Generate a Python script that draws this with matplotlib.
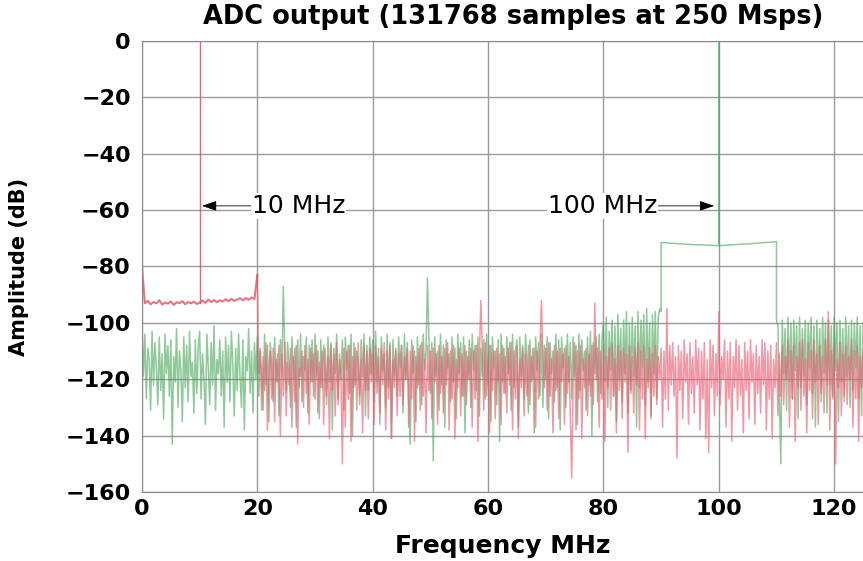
import numpy as np
import matplotlib
matplotlib.use("Agg")
import matplotlib.pyplot as plt

paso_banda = 0.5     # MHz entre muestras de la banda roja 0..20 MHz
paso_ruido = 0.25    # MHz entre muestras del ruido

# tono de 10 MHz (rojo): banda 0..19.5 MHz, luego ruido 20..125 MHz
rojo_banda_db = [
    -80.0, -93.0, -92.2, -93.4, -92.6, -93.1, -92.0, -93.5, -92.8, -93.2,
    -92.4, -93.6, -92.7, -93.0, -92.3, -93.4, -92.6, -93.1, -92.5, -93.3,
    -92.8, -92.1, -92.9, -91.8, -92.6, -91.9, -92.7, -92.0, -92.4, -91.6,
    -92.3, -91.5, -92.2, -91.7, -91.3, -92.0, -91.2, -91.8, -91.0, -91.5,
]
rojo_tono_mhz = 10.0
rojo_tono_db = 0.0
rojo_ruido_db = [
    -83, -118, -109, -131, -112, -124, -107, -138, -115, -110, -127, -109, -135, -113, -121, -108, -140, -111, -126, -107,
    -133, -114, -122, -109, -137, -112, -128, -108, -143, -116, -119, -110, -130, -108, -125, -113, -136, -109, -121, -111,
    -127, -108, -132, -114, -123, -110, -136, -109, -126, -112, -141, -108, -124, -111, -133, -107, -129, -113, -120, -150,
    -109, -137, -110, -127, -108, -142, -112, -123, -109, -131, -107, -126, -113, -139, -108, -124, -110, -134, -109, -121,
    -111, -136, -108, -125, -112, -132, -109, -122, -107, -138, -110, -127, -108, -141, -113, -123, -109, -133, -111, -126,
    -108, -129, -112, -120, -109, -137, -110, -127, -108, -142, -112, -123, -109, -131, -107, -126, -113, -139, -108, -124,
    -110, -134, -109, -121, -111, -136, -108, -125, -112, -132, -109, -122, -107, -138, -110, -127, -108, -141, -113, -123,
    -109, -133, -111, -126, -108, -129, -112, -120, -109, -137, -110, -127, -108, -142, -112, -92, -109, -131, -107, -126,
    -113, -139, -108, -124, -110, -134, -109, -121, -111, -136, -108, -125, -112, -132, -109, -122, -107, -138, -110, -127,
    -108, -141, -113, -123, -109, -133, -111, -126, -108, -129, -112, -120, -109, -137, -110, -127, -108, -92, -112, -123,
    -109, -131, -107, -126, -113, -139, -108, -124, -110, -134, -109, -121, -111, -136, -108, -125, -112, -132, -155, -122,
    -107, -138, -110, -127, -108, -141, -113, -123, -109, -133, -111, -126, -108, -129, -93, -120, -109, -137, -110, -127,
    -108, -142, -112, -123, -109, -131, -107, -126, -113, -139, -108, -124, -110, -134, -109, -121, -111, -146, -108, -125,
    -112, -132, -109, -122, -107, -138, -110, -127, -108, -141, -113, -123, -109, -133, -111, -126, -108, -129, -112, -120,
    -109, -137, -110, -127, -95, -131, -108, -122, -107, -126, -112, -148, -108, -124, -110, -134, -106, -121, -111, -136,
    -107, -125, -112, -132, -106, -122, -109, -138, -110, -127, -107, -141, -113, -146, -106, -123, -108, -133, -111, -126,
    -96, -129, -112, -120, -106, -137, -110, -127, -107, -142, -112, -123, -106, -131, -108, -126, -113, -139, -107, -124,
    -110, -134, -106, -121, -111, -136, -108, -125, -112, -132, -106, -122, -107, -138, -110, -127, -108, -141, -113, -123,
    -107, -133, -111, -126, -108, -129, -112, -120, -106, -137, -110, -127, -108, -142, -112, -123, -107, -131, -106, -126,
    -113, -139, -107, -124, -110, -134, -106, -121, -111, -136, -108, -125, -112, -132, -106, -122, -96, -138, -110, -127,
    -108, -150, -113, -123, -107, -133, -111, -126, -108, -129, -112, -120, -106, -137, -110, -127, -108, -142, -112, -123,
    -110,
]

# tono de 100 MHz (verde): ruido 0..89.75, bloque 90..110, ruido 110.25..125
verde_bajo_db = [
    -100, -119, -104, -127, -109, -113, -131, -103, -122, -107, -116, -129, -105, -124, -111, -134, -104, -118, -108, -126,
    -106, -143, -112, -121, -102, -130, -110, -117, -135, -105, -123, -108, -128, -103, -119, -114, -132, -106, -125, -109,
    -103, -127, -111, -120, -136, -104, -116, -129, -107, -122, -101, -131, -113, -118, -106, -126, -110, -137, -105, -121,
    -108, -128, -103, -115, -133, -109, -124, -104, -119, -130, -106, -138, -112, -117, -102, -125, -110, -132, -107, -120,
    -105, -126, -110, -118, -131, -104, -122, -108, -135, -107, -116, -128, -105, -121, -111, -133, -106, -119, -87, -109,
    -124, -107, -115, -130, -105, -120, -109, -137, -106, -123, -104, -128, -112, -117, -105, -132, -108, -121, -106, -126,
    -104, -119, -110, -134, -106, -123, -108, -116, -129, -105, -121, -107, -138, -109, -118, -104, -127, -111, -120, -106,
    -131, -105, -117, -108, -125, -104, -140, -107, -122, -110, -115, -129, -106, -119, -104, -133, -108, -124, -105, -118,
    -106, -128, -103, -121, -109, -136, -105, -117, -111, -130, -104, -123, -107, -141, -106, -119, -110, -126, -105, -116,
    -108, -132, -104, -120, -107, -127, -143, -106, -118, -110, -135, -105, -122, -108, -129, -104, -117, -109, -84, -106,
    -125, -107, -149, -105, -119, -110, -131, -104, -122, -108, -137, -106, -116, -111, -128, -105, -121, -109, -134, -104,
    -118, -107, -126, -105, -139, -110, -120, -106, -130, -104, -117, -108, -124, -105, -133, -109, -119, -106, -127, -104,
    -122, -108, -135, -105, -116, -110, -129, -106, -142, -104, -121, -109, -125, -105, -118, -107, -131, -104, -123, -110,
    -106, -137, -105, -119, -108, -127, -104, -115, -132, -106, -121, -109, -139, -105, -117, -107, -126, -104, -130, -108,
    -120, -105, -134, -107, -118, -110, -128, -104, -123, -106, -138, -105, -116, -109, -130, -104, -121, -107, -127, -105,
    -119, -108, -136, -104, -124, -106, -117, -110, -131, -105, -122, -103, -140, -107, -118, -105, -128, -104, -125, -106,
    -100, -121, -98, -130, -103, -117, -99, -126, -101, -135, -97, -120, -102, -128, -99, -118, -96, -132, -100, -124,
    -98, -119, -101, -137, -96, -123, -99, -116, -97, -129, -95, -121, -100, -134, -97, -118, -96, -127, -98, -95,
]
verde_bloque_mhz = [90, 90, 95, 100, 105, 110, 110]
verde_bloque_db = [-96, -71.5, -72.2, -72.6, -72.0, -71.2, -99]
verde_tono_mhz = 100.0
verde_tono_db = 0.0
verde_alto_db = [
    -101, -126, -150, -99, -118, -102, -131, -98, -121, -100, -127, -99, -117, -101, -134, -98, -123, -102, -119, -99,
    -129, -100, -116, -98, -125, -101, -137, -99, -120, -102, -128, -98, -118, -100, -132, -99, -122, -101, -126, -98,
    -117, -100, -135, -99, -121, -102, -128, -98, -119, -101, -130, -99, -124, -100, -116, -98, -127, -101, -133, -100,
]

# ── Series ────────────────────────────────────────────────────────────────────
f_rojo_banda = np.arange(len(rojo_banda_db)) * paso_banda
f_rojo_ruido = 20 + np.arange(len(rojo_ruido_db)) * paso_ruido
i_tono = int(rojo_tono_mhz / paso_banda)
f_banda = np.concatenate([f_rojo_banda, f_rojo_ruido[:1]])
y_banda = np.concatenate([rojo_banda_db, rojo_ruido_db[:1]])

f_verde_bajo = np.arange(len(verde_bajo_db)) * paso_ruido
f_verde_alto = 110.25 + np.arange(len(verde_alto_db)) * paso_ruido
j = verde_bloque_mhz.index(verde_tono_mhz) + 1
f_verde = np.concatenate([f_verde_bajo, verde_bloque_mhz[:j], [verde_tono_mhz, verde_tono_mhz],
                          verde_bloque_mhz[j:], f_verde_alto])
y_verde = np.concatenate([verde_bajo_db, verde_bloque_db[:j], [verde_tono_db, verde_bloque_db[j - 1]],
                          verde_bloque_db[j:], verde_alto_db])

# ── Dibujar ───────────────────────────────────────────────────────────────────
plt.rcParams["font.family"] = ["DejaVu Sans"]

fig = plt.figure(figsize=(8.63, 5.61), dpi=100)
ax = fig.add_axes([0.1645, 0.123, 0.8355, 0.804])

ax.plot(f_verde, y_verde, color="#45a556", lw=1.1, alpha=0.6)
ax.plot(f_rojo_ruido, rojo_ruido_db, color="#ec6074", lw=1.1, alpha=0.65)
ax.plot(f_banda, y_banda, color="#e0505f", lw=1.5, alpha=0.8)
ax.plot([rojo_tono_mhz, rojo_tono_mhz], [rojo_banda_db[i_tono], rojo_tono_db],
        color="#e86474", lw=1.0)

ax.set_xlim(0, 125)
ax.set_ylim(-160, 0)
ax.set_xticks(range(0, 121, 20))
ax.set_yticks(range(-160, 1, 20))
ax.grid(True, color="#9a9a9a", lw=1.0)
ax.set_axisbelow(True)
for lado in ("left", "bottom", "top"):
    ax.spines[lado].set_color("#8a8a8a")
ax.spines["right"].set_visible(False)
ax.tick_params(length=0, labelsize=16, pad=8)
ax.tick_params(axis="x", pad=5)
for etiqueta in ax.get_xticklabels() + ax.get_yticklabels():
    etiqueta.set_fontweight("bold")

ax.set_title("ADC output (131768 samples at 250 Msps)", fontsize=18.5,
             fontweight="bold", x=0.515, pad=12)
ax.set_xlabel("Frequency MHz", fontsize=18, fontweight="bold", labelpad=11)
ax.set_ylabel("Amplitude (dB)", fontsize=15, fontweight="bold", labelpad=26)

flecha = dict(arrowstyle="-|>,head_length=0.5,head_width=0.17", color="black",
              lw=0.6, shrinkA=0, shrinkB=0)
ax.annotate("10 MHz", xy=(10.4, -58.5), xytext=(19.0, -58.5), fontsize=18,
            va="center", ha="left", arrowprops=flecha,
            bbox=dict(fc="white", ec="none", pad=0.5))
ax.annotate("100 MHz", xy=(99.2, -58.5), xytext=(89.3, -58.5), fontsize=18,
            va="center", ha="right", arrowprops=flecha,
            bbox=dict(fc="white", ec="none", pad=0.5))

fig.savefig("out.png", dpi=100)
plt.close(fig)
